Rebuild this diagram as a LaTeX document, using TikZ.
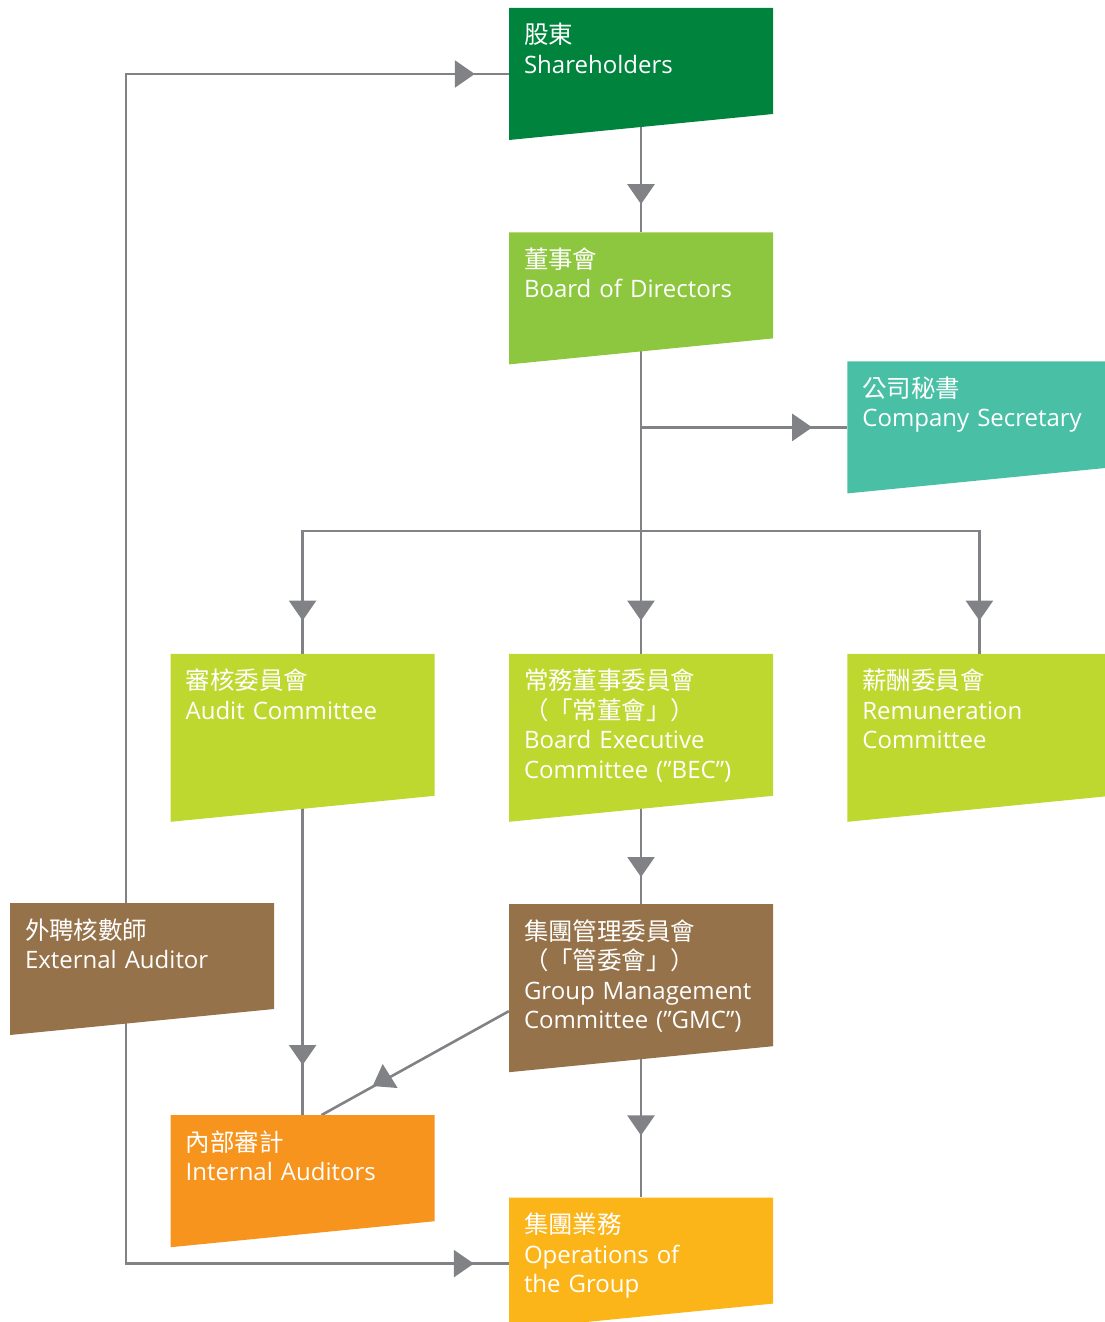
\documentclass[tikz,border=0pt]{standalone}
\usepackage{fontspec}
\setmainfont{Open Sans}
\newfontfamily\cjk[Scale=1.02]{Noto Sans CJK TC}
\usepackage{xcolor}
\usetikzlibrary{arrows.meta}
\usetikzlibrary{positioning}
\usetikzlibrary{decorations.markings}
\usetikzlibrary{backgrounds}

\definecolor{shgreen}{HTML}{00843D}
\definecolor{bdgreen}{HTML}{8DC63F}
\definecolor{csteal}{HTML}{49C0A6}
\definecolor{cmtgreen}{HTML}{BED830}
\definecolor{audbrown}{HTML}{957249}
\definecolor{iaorange}{HTML}{F7941E}
\definecolor{opyellow}{HTML}{FBB519}
\definecolor{linegray}{HTML}{808285}

\begin{document}
\begin{tikzpicture}[x=1pt,y=-1pt,node distance=74pt,
  panel/.style={rectangle, inner xsep=15pt, inner ysep=0pt, text width=234pt, align=left,
    text=white, text height=36pt, text depth=96pt, font=\fontsize{24}{29.5}\selectfont,
    path picture={\fill[#1] (path picture bounding box.north west) -- (path picture bounding box.north east)
      -- ([yshift=26pt]path picture bounding box.south east) -- (path picture bounding box.south west) -- cycle;}},
  tall/.style={panel=#1, text depth=132pt},
  tipat/.style={postaction={decorate}, decoration={markings,
    mark=at position -#1 with {\arrow{Triangle[length=20pt,width=27pt]}}}}]
  \tikzstyle{flow}=[draw=linegray, line width=2.6pt]
  \useasboundingbox (0,0) rectangle (1104,1322);

  \node[panel=shgreen]                  (SH)  at (641,74)  {{\cjk 股東}\\Shareholders};
  \node[panel=bdgreen, below=92pt of SH]  (BD)  {{\cjk 董事會}\\Board of Directors};
  \node[tall=cmtgreen, below=289pt of BD] (BEC) {{\cjk 常務董事委員會\\（「常董會」）}\\Board Executive\\Committee (”BEC”)};
  \node[tall=cmtgreen, left=of BEC]       (AC)  {{\cjk 審核委員會}\\Audit Committee};
  \node[tall=cmtgreen, right=of BEC]      (RC)  {{\cjk 薪酬委員會}\\Remuneration\\Committee};
  \node[panel=csteal, above=160pt of RC]  (CS)  {{\cjk 公司秘書}\\Company Secretary};
  \node[tall=audbrown, below=82pt of BEC] (GMC) {{\cjk 集團管理委員會\\（「管委會」）}\\Group Management\\Committee (”GMC”)};
  \node[panel=opyellow, below=125pt of GMC] (OG) {{\cjk 集團業務}\\Operations of\\the Group};
  \node[panel=iaorange, below=293pt of AC]  (IA) {{\cjk 內部審計}\\Internal Auditors};
  \node[panel=audbrown]                 (EA)  at (142,969) {{\cjk 外聘核數師}\\External Auditor};

  \begin{scope}[on background layer]
    \coordinate (split) at (BD.south |- 0,531);
    \path[flow, tipat=28pt] (SH.center) -- (BD);
    \path[flow] (BD.center) -- (split);
    \path[flow, tipat=35pt] (BD.south |- CS.west) -- (CS.west);
    \path[flow, tipat=33pt] (split) -- (BEC);
    \path[flow, tipat=33pt] (split) -| (AC.north);
    \path[flow, tipat=33pt] (split) -| (RC.north);
    \path[flow, tipat=27pt] (BEC.center) -- (GMC);
    \path[flow, tipat=62pt] (GMC.center) -- (OG);
    \path[flow, tipat=50pt] (AC.center) -- (IA);
    \path[flow, tipat=34pt] ([xshift=-16pt]EA.north) |- (SH.west);
    \path[flow, tipat=35pt] ([xshift=-16pt]EA.center) |- (OG.west);
    \path[flow] ([yshift=-23pt]GMC.west) -- coordinate[pos=0.663] (dg) ([xshift=19pt]IA.north);
    \fill[linegray] (dg) ++(-2,-16) -- ++(-10,22) -- ++(25,2) -- cycle;
  \end{scope}
\end{tikzpicture}
\end{document}
